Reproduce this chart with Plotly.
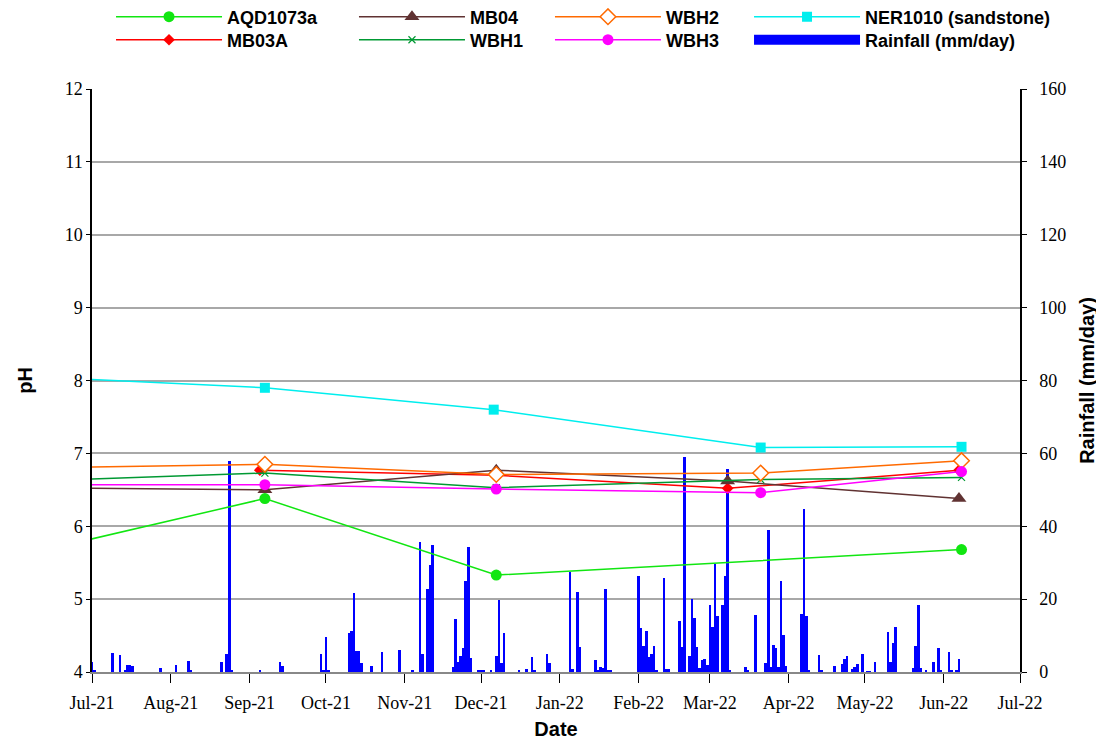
import plotly.graph_objects as go

# sampling dates / pH readings (first points sit just before the axis start)
aqd_dates = ["2021-06-08", "2021-09-07", "2021-12-07", "2022-06-08"]
aqd_ph = [5.64, 6.38, 5.33, 5.68]

mb03a_dates = ["2021-09-05", "2021-12-07", "2022-03-08", "2022-06-07"]
mb03a_ph = [6.77, 6.70, 6.52, 6.77]

mb04_dates = ["2021-06-08", "2021-09-07", "2021-12-07", "2022-03-08", "2022-06-07"]
mb04_ph = [6.53, 6.50, 6.77, 6.62, 6.38]

wbh_dates = ["2021-06-08", "2021-09-07", "2021-12-07", "2022-03-21", "2022-06-08"]
wbh1_ph = [6.62, 6.73, 6.53, 6.64, 6.67]
wbh2_ph = [6.80, 6.85, 6.71, 6.73, 6.90]
wbh3_ph = [6.57, 6.57, 6.51, 6.46, 6.75]

ner_dates = ["2021-06-08", "2021-09-07", "2021-12-06", "2022-03-21", "2022-06-08"]
ner_ph = [8.05, 7.90, 7.60, 7.08, 7.09]

# daily rainfall (mm/day), only days with rain
rain_dates = [
    "2021-07-01", "2021-07-02", "2021-07-09", "2021-07-12", "2021-07-14", "2021-07-15",
    "2021-07-16", "2021-07-17", "2021-07-28", "2021-08-03", "2021-08-08", "2021-08-09",
    "2021-08-21", "2021-08-23", "2021-08-24", "2021-08-25", "2021-09-05", "2021-09-13",
    "2021-09-14", "2021-09-29", "2021-09-30", "2021-10-01", "2021-10-02", "2021-10-10",
    "2021-10-11", "2021-10-12", "2021-10-13", "2021-10-14", "2021-10-15", "2021-10-19",
    "2021-10-23", "2021-10-30", "2021-11-04", "2021-11-07", "2021-11-08", "2021-11-10",
    "2021-11-11", "2021-11-12", "2021-11-20", "2021-11-21", "2021-11-22", "2021-11-23",
    "2021-11-24", "2021-11-25", "2021-11-26", "2021-11-27", "2021-11-30", "2021-12-01",
    "2021-12-02", "2021-12-05", "2021-12-07", "2021-12-08", "2021-12-09", "2021-12-10",
    "2021-12-16", "2021-12-19", "2021-12-21", "2021-12-22", "2021-12-27", "2021-12-28",
    "2022-01-05", "2022-01-06", "2022-01-08", "2022-01-09", "2022-01-15", "2022-01-16",
    "2022-01-17", "2022-01-18", "2022-01-19", "2022-01-20", "2022-01-21", "2022-02-01",
    "2022-02-02", "2022-02-03", "2022-02-04", "2022-02-05", "2022-02-06", "2022-02-07",
    "2022-02-08", "2022-02-11", "2022-02-12", "2022-02-13", "2022-02-17", "2022-02-18",
    "2022-02-19", "2022-02-21", "2022-02-22", "2022-02-23", "2022-02-24", "2022-02-25",
    "2022-02-26", "2022-02-27", "2022-02-28", "2022-03-01", "2022-03-02", "2022-03-03",
    "2022-03-04", "2022-03-06", "2022-03-07", "2022-03-08", "2022-03-09", "2022-03-15",
    "2022-03-16", "2022-03-19", "2022-03-23", "2022-03-24", "2022-03-25", "2022-03-26",
    "2022-03-27", "2022-03-28", "2022-03-29", "2022-03-30", "2022-03-31", "2022-04-06",
    "2022-04-07", "2022-04-08", "2022-04-09", "2022-04-13", "2022-04-14", "2022-04-19",
    "2022-04-22", "2022-04-23", "2022-04-24", "2022-04-26", "2022-04-27", "2022-04-28",
    "2022-04-30", "2022-05-02", "2022-05-03", "2022-05-05", "2022-05-10", "2022-05-11",
    "2022-05-12", "2022-05-13", "2022-05-20", "2022-05-21", "2022-05-22", "2022-05-23",
    "2022-05-25", "2022-05-28", "2022-05-30", "2022-05-31", "2022-06-03", "2022-06-04",
    "2022-06-06", "2022-06-07",
]
rain_mm = [
    2.75, 0.4, 5.2, 4.7, 0.4, 1.9,
    1.9, 1.65, 1.1, 1.9, 3.0, 0.4,
    2.75, 5.0, 57.8, 0.55, 0.3, 2.75,
    1.65, 5.0, 0.55, 9.6, 0.3, 10.7,
    11.3, 21.7, 5.8, 5.8, 2.5, 1.65,
    5.5, 6.05, 0.3, 35.8, 5.0, 22.8,
    29.4, 34.9, 1.4, 14.6, 2.75, 4.4,
    6.6, 25.0, 34.4, 3.85, 0.55, 0.3,
    0.55, 0.3, 4.4, 19.8, 2.5, 10.7,
    0.3, 0.8, 4.1, 0.3, 5.0, 2.5,
    27.5, 0.8, 22.0, 6.9, 3.3, 0.3,
    1.4, 1.1, 22.8, 0.3, 0.55, 26.4,
    12.1, 7.2, 11.3, 4.1, 5.0, 7.2,
    0.55, 25.9, 0.8, 0.8, 14.0, 6.9,
    58.9, 4.4, 20.1, 14.9, 6.9, 1.1,
    3.3, 3.6, 1.9, 18.4, 12.4, 29.7,
    15.4, 18.4, 26.4, 55.8, 0.55, 1.4,
    0.3, 15.7, 2.5, 39.1, 1.4, 7.4,
    6.6, 1.4, 25.0, 10.2, 1.65, 16.0,
    44.8, 15.4, 0.3, 4.7, 0.3, 1.65,
    2.2, 3.6, 4.4, 0.8, 1.4, 2.2,
    5.0, 0.2, 0.2, 2.75, 11.0, 2.75,
    8.0, 12.4, 1.1, 7.2, 18.4, 1.1,
    0.3, 2.75, 6.6, 0.3, 5.5, 0.3,
    0.3, 3.6,
]

DAY_MS = 86400000
sans = "Liberation Sans"
serif = "Liberation Serif"
blue = "#0000ff"


def ph_trace(name, x, y, color, symbol, size, legend, fill=None, mline=0):
    return go.Scatter(
        x=x,
        y=y,
        name=name,
        mode="lines+markers",
        yaxis="y2",
        legend=legend,
        line=dict(color=color, width=1.5),
        marker=dict(
            symbol=symbol,
            size=size,
            color=fill or color,
            line=dict(color=color, width=mline),
        ),
        cliponaxis=False,
    )


rain = go.Bar(
    x=rain_dates,
    y=rain_mm,
    name="Rainfall (mm/day)",
    marker=dict(color=blue, line=dict(width=0)),
    width=DAY_MS,
    yaxis="y",
    showlegend=False,
)
# legend swatch for rainfall: a wide block like the original key
rain_key = go.Scatter(
    x=[None], y=[None], name="Rainfall (mm/day)", mode="lines",
    line=dict(color=blue, width=18), yaxis="y2", legend="legend8",
)

traces = [
    rain,
    ph_trace("AQD1073a", aqd_dates, aqd_ph, "#11e611", "circle", 11, "legend"),
    ph_trace("MB03A", mb03a_dates, mb03a_ph, "#ff0000", "diamond", 9, "legend2"),
    ph_trace("MB04", mb04_dates, mb04_ph, "#603232", "triangle-up", 13, "legend3"),
    ph_trace("WBH1", wbh_dates, wbh1_ph, "#009933", "x-thin-open", 7, "legend4", mline=1.2),
    ph_trace("WBH2", wbh_dates, wbh2_ph, "#ff6a00", "diamond", 12, "legend5", fill="white", mline=1.5),
    ph_trace("WBH3", wbh_dates, wbh3_ph, "#ff00ff", "circle", 11, "legend6"),
    ph_trace("NER1010 (sandstone)", ner_dates, ner_ph, "#00eeee", "square", 10, "legend7"),
    rain_key,
]

fig = go.Figure(data=traces)

# one legend per key entry so the 4x2 key lines up like the original
leg_font = dict(family=sans, size=18, color="black", weight="bold")
col_x = [0.0205, 0.2823, 0.4935, 0.708]
row_y = [1.1235, 1.084]
legends = {}
names = ["legend", "legend2", "legend3", "legend4", "legend5", "legend6", "legend7", "legend8"]
for i, nm in enumerate(names):
    legends[nm] = dict(
        x=col_x[i // 2],
        y=row_y[i % 2],
        xanchor="left",
        yanchor="middle",
        font=leg_font,
        itemwidth=106,
        bgcolor="rgba(0,0,0,0)",
    )

fig.update_layout(
    width=1096,
    height=732,
    margin=dict(l=84, r=84, t=81, b=68, autoexpand=False),
    plot_bgcolor="white",
    paper_bgcolor="white",
    bargap=0,
    showlegend=True,
    xaxis=dict(
        type="date",
        range=["2021-07-01", "2022-07-01"],
        tick0="2021-07-01",
        dtick="M1",
        tickformat="%b-%y",
        ticks="outside",
        ticklen=9,
        tickcolor="black",
        ticklabelstandoff=4,
        showgrid=False,
        showline=True,
        linecolor="#888888",
        linewidth=2,
        tickfont=dict(family=serif, size=18, color="black"),
        title=dict(text="Date", font=dict(family=sans, size=20, color="black", weight="bold"), standoff=16),
    ),
    yaxis=dict(
        side="right",
        range=[0, 160],
        dtick=20,
        showgrid=False,
        ticks="outside",
        ticklen=5,
        tickcolor="black",
        ticklabelstandoff=9,
        showline=True,
        linecolor="black",
        linewidth=1.5,
        zeroline=False,
        tickfont=dict(family=serif, size=18, color="black"),
        title=dict(text="Rainfall (mm/day)", font=dict(family=sans, size=20, color="black", weight="bold"), standoff=15),
    ),
    yaxis2=dict(
        overlaying="y",
        side="left",
        range=[4, 12],
        dtick=1,
        showgrid=True,
        gridcolor="#a8a8a8",
        gridwidth=1.5,
        ticks="outside",
        ticklen=4,
        tickcolor="black",
        showline=True,
        linecolor="black",
        linewidth=1.5,
        zeroline=False,
        tickfont=dict(family=serif, size=18, color="black"),
        title=dict(text="pH", font=dict(family=sans, size=20, color="black", weight="bold"), standoff=27),
    ),
    **legends,
)

fig.write_html("out.html")
